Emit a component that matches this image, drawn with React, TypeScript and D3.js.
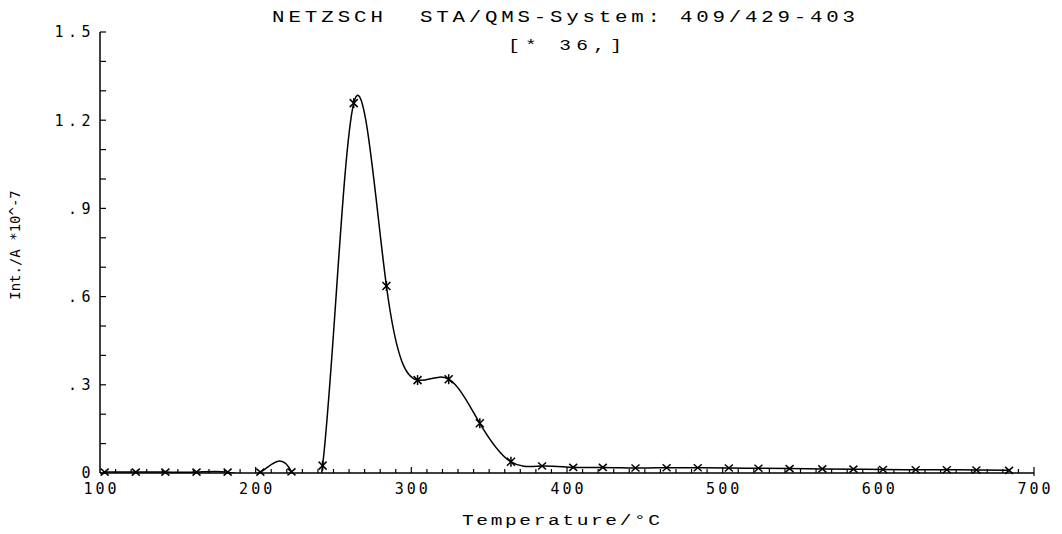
import { useEffect, useRef } from 'react';
import * as d3 from 'd3';

// marker temperatures (°C) and ion current (A * 1e-7)
const temps = [103, 123, 142, 162, 182, 203, 223, 243, 263, 284, 304, 324, 344, 364, 384, 404, 423, 444, 464, 484, 504, 523, 543, 564, 584, 603, 624, 644, 663, 684];
const intensity = [0.003, 0.003, 0.003, 0.003, 0.003, 0.003, 0.004, 0.025, 1.258, 0.636, 0.316, 0.319, 0.169, 0.038, 0.024, 0.019, 0.019, 0.017, 0.018, 0.018, 0.017, 0.016, 0.015, 0.014, 0.013, 0.012, 0.011, 0.011, 0.010, 0.009];

const xTickValues = [100, 200, 300, 400, 500, 600, 700];
const xTickLabels = ['100', '200', '300', '400', '500', '600', '700'];
const yTickValues = [0, 0.3, 0.6, 0.9, 1.2, 1.5];
const yTickLabels = ['0', '.3', '.6', '.9', '1.2', '1.5'];

const titleLeft = 'NETZSCH';
const titleRight = 'STA/QMS-System: 409/429-403';
const subTitle = '[* 36,]';
const xTitle = 'Temperature/°C';
const yTitle = 'Int./A *10^-7';

const NUM_FONT = '"DejaVu Sans Mono", monospace';
const TXT_FONT = '"Liberation Mono", "DejaVu Sans Mono", monospace';

function App() {
    const svgRef = useRef<SVGSVGElement>(null);

    useEffect(() => {
        if (!svgRef.current) return;
        const svg = d3.select(svgRef.current);
        svg.selectAll('*').remove();

        const x = d3.scaleLinear().domain([100, 700]).range([100, 1034]);
        const y = d3.scaleLinear().domain([0, 1.5]).range([473, 32]);

        const points = temps.map((t, i) => [t, intensity[i]] as [number, number]);

        svg.append('defs').append('clipPath').attr('id', 'plotClip')
            .append('rect')
            .attr('x', x(100)).attr('y', y(1.5))
            .attr('width', x(700) - x(100)).attr('height', y(0) - y(1.5));

        // spline through the measured points (dips below zero get clipped, like the plotter did)
        const line = d3.line<[number, number]>()
            .x(d => x(d[0]))
            .y(d => y(d[1]))
            .curve(d3.curveNatural);

        svg.append('path')
            .datum(points)
            .attr('d', line)
            .attr('clip-path', 'url(#plotClip)')
            .attr('fill', 'none')
            .attr('stroke', '#000')
            .attr('stroke-width', 1.5);

        // markers: asterisks on the big peak, plain crosses elsewhere
        const marks = svg.append('g').attr('stroke', '#000').attr('stroke-width', 1.5);
        points.forEach(([t, v]) => {
            const cx = x(t), cy = y(v);
            const star = t > 235 && t < 370;
            const g = marks.append('g').attr('transform', `translate(${cx},${cy})`);
            if (star) {
                g.append('line').attr('x1', -4).attr('y1', -4).attr('x2', 4).attr('y2', 4);
                g.append('line').attr('x1', -4).attr('y1', 4).attr('x2', 4).attr('y2', -4);
                g.append('line').attr('x1', 0).attr('y1', -5).attr('x2', 0).attr('y2', 5);
            } else {
                g.append('line').attr('x1', -4).attr('y1', -3.5).attr('x2', 4).attr('y2', 3.5);
                g.append('line').attr('x1', -4).attr('y1', 3.5).attr('x2', 4).attr('y2', -3.5);
            }
        });

        // axes
        const axes = svg.append('g').attr('stroke', '#000').attr('stroke-width', 1.5);
        axes.append('line')
            .attr('x1', x(100)).attr('x2', x(100))
            .attr('y1', y(1.5)).attr('y2', y(0));
        axes.append('line')
            .attr('x1', x(100)).attr('x2', x(700))
            .attr('y1', y(0)).attr('y2', y(0));

        d3.range(0, 1.501, 0.1).forEach(v => {
            axes.append('line')
                .attr('x1', x(100)).attr('x2', x(100) + 6)
                .attr('y1', y(v)).attr('y2', y(v))
                .attr('stroke-width', 1.2);
        });

        d3.range(110, 701, 10).forEach(t => {
            const major = t % 100 === 0;
            axes.append('line')
                .attr('x1', x(t)).attr('x2', x(t))
                .attr('y1', y(0)).attr('y2', y(0) - (major ? 6 : 4))
                .attr('stroke-width', 1.2);
        });
        axes.append('line')
            .attr('x1', x(700)).attr('x2', x(700))
            .attr('y1', y(0)).attr('y2', y(0) + 3)
            .attr('stroke-width', 1.2);

        // tick labels
        yTickValues.forEach((v, i) => {
            svg.append('text')
                .attr('x', 95)
                .attr('y', y(v))
                .attr('dy', i === 0 ? '0.3em' : '0.36em')
                .attr('text-anchor', 'end')
                .attr('font-family', NUM_FONT)
                .attr('font-size', 15)
                .attr('letter-spacing', 4.5)
                .text(yTickLabels[i]);
        });

        xTickValues.forEach((t, i) => {
            svg.append('text')
                .attr('x', x(t) + 1.5)
                .attr('y', 494)
                .attr('text-anchor', 'middle')
                .attr('font-family', NUM_FONT)
                .attr('font-size', 15)
                .attr('letter-spacing', 3)
                .text(xTickLabels[i]);
        });

        // titles: plotter lettering is wide, so stretch the glyphs a bit
        const stretch = 1.3;
        const addText = (txt: string, px: number, py: number, size: number, len: number) =>
            svg.append('text')
                .attr('transform', `translate(${px},${py}) scale(${stretch},1)`)
                .attr('font-family', TXT_FONT)
                .attr('font-size', size)
                .attr('textLength', len / stretch)
                .attr('lengthAdjust', 'spacing')
                .text(txt);

        addText(titleLeft, 272, 22, 16, 111);
        addText(titleRight, 420, 22, 16, 435);
        addText(subTitle, 508, 50, 15, 114);
        addText(xTitle, 462, 525, 15, 198);

        svg.append('text')
            .attr('transform', 'translate(20,245) rotate(-90)')
            .attr('text-anchor', 'middle')
            .attr('font-family', NUM_FONT)
            .attr('font-size', 14)
            .text(yTitle);
    }, []);

    return (
        <svg
            ref={svgRef}
            width={1062}
            height={534}
            style={{ position: 'absolute', left: 0, top: 0, background: '#fff' }}
        />
    );
}

export default App;
